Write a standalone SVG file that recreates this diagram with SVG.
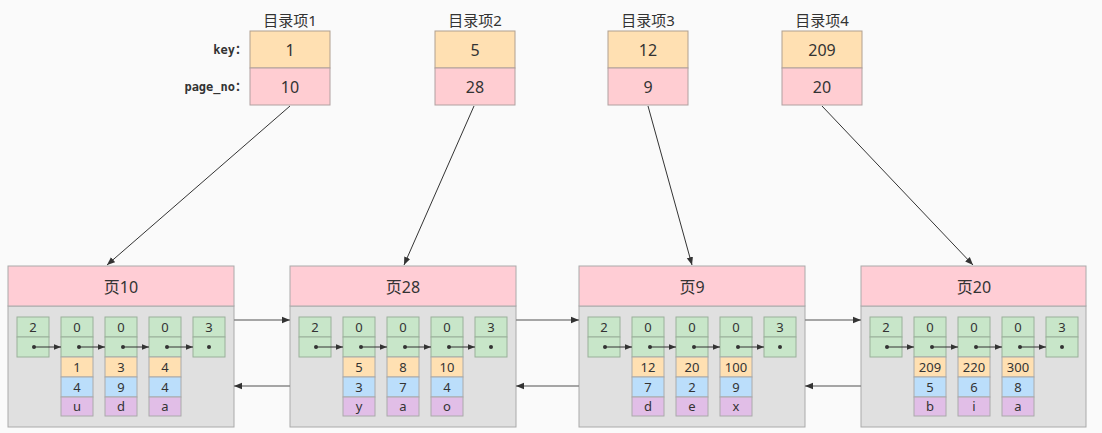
<svg xmlns="http://www.w3.org/2000/svg" width="1102" height="433" viewBox="0 0 1102 433">
<defs>
<style>
.bg{fill:#fafafa}
.t{font-family:"Noto Sans","Noto Sans CJK SC",sans-serif;fill:#333;text-anchor:middle;dominant-baseline:central}
.lbl{font-family:"DejaVu Sans Mono","Liberation Mono","Noto Sans CJK SC",monospace;font-weight:bold;font-size:12px;fill:#333;text-anchor:end;dominant-baseline:central}
.key{fill:#ffe0b2;stroke:#b0a090;stroke-width:1}
.pno{fill:#ffcdd2;stroke:#b0a0a0;stroke-width:1}
.ph{fill:#ffcdd5;stroke:#aaa;stroke-width:1}
.pb{fill:#e0e0e0;stroke:#aaa;stroke-width:1}
.g{fill:#c8e6c9;stroke:#9ab09a;stroke-width:1}
.o{fill:#ffe0b2;stroke:#aaa;stroke-width:1}
.b{fill:#bbdefb;stroke:#aaa;stroke-width:1}
.p{fill:#e1bee7;stroke:#aaa;stroke-width:1}
.ln{stroke:#333;stroke-width:1;fill:none}
.pl{stroke:#888;stroke-width:1.5;fill:none}
.dot{fill:#333}
</style>
<marker id="ah" viewBox="0 0 10 10" refX="10" refY="5" markerWidth="8" markerHeight="8" markerUnits="userSpaceOnUse" orient="auto"><path d="M0,1 L10,5 L0,9 z" fill="#333"/></marker>
<marker id="ahs" viewBox="0 0 10 10" refX="10" refY="5" markerWidth="7" markerHeight="7" markerUnits="userSpaceOnUse" orient="auto"><path d="M0,1 L10,5 L0,9 z" fill="#333"/></marker>
<g id="rec">
<rect class="g" x="0" y="0" width="32" height="20"/>
<rect class="g" x="0" y="20" width="32" height="20"/>
</g>
</defs>
<rect class="bg" x="0" y="0" width="1102" height="433"/>

<text class="lbl" x="247" y="50">key：</text>
<text class="lbl" x="247" y="87">page_no：</text>

<g id="dir1">
<text class="t" x="290" y="20" font-size="15">目录项1</text>
<rect class="key" x="250" y="31" width="80" height="37"/>
<rect class="pno" x="250" y="68" width="80" height="37"/>
<text class="t" x="290" y="50" font-size="16">1</text>
<text class="t" x="290" y="87" font-size="16">10</text>
</g>
<g id="dir2">
<text class="t" x="475" y="20" font-size="15">目录项2</text>
<rect class="key" x="435" y="31" width="80" height="37"/>
<rect class="pno" x="435" y="68" width="80" height="37"/>
<text class="t" x="475" y="50" font-size="16">5</text>
<text class="t" x="475" y="87" font-size="16">28</text>
</g>
<g id="dir3">
<text class="t" x="648" y="20" font-size="15">目录项3</text>
<rect class="key" x="608" y="31" width="80" height="37"/>
<rect class="pno" x="608" y="68" width="80" height="37"/>
<text class="t" x="648" y="50" font-size="16">12</text>
<text class="t" x="648" y="87" font-size="16">9</text>
</g>
<g id="dir4">
<text class="t" x="822" y="20" font-size="15">目录项4</text>
<rect class="key" x="782" y="31" width="80" height="37"/>
<rect class="pno" x="782" y="68" width="80" height="37"/>
<text class="t" x="822" y="50" font-size="16">209</text>
<text class="t" x="822" y="87" font-size="16">20</text>
</g>

<!-- Page 10 -->
<g id="page10" transform="translate(8,266)">
<rect class="pb" x="0" y="40" width="226" height="121"/>
<rect class="ph" x="0" y="0" width="226" height="40"/>
<text class="t" x="113" y="21" font-size="16">页10</text>
<g transform="translate(9,51)">
<use href="#rec" x="0"/><use href="#rec" x="44"/><use href="#rec" x="88"/><use href="#rec" x="132"/><use href="#rec" x="176"/>
<rect class="o" x="44" y="40" width="32" height="20"/><rect class="o" x="88" y="40" width="32" height="20"/><rect class="o" x="132" y="40" width="32" height="20"/>
<rect class="b" x="44" y="60" width="32" height="20"/><rect class="b" x="88" y="60" width="32" height="20"/><rect class="b" x="132" y="60" width="32" height="20"/>
<rect class="p" x="44" y="80" width="32" height="19"/><rect class="p" x="88" y="80" width="32" height="19"/><rect class="p" x="132" y="80" width="32" height="19"/>
<g font-size="13">
<text class="t" x="16" y="10">2</text><text class="t" x="60" y="10">0</text><text class="t" x="104" y="10">0</text><text class="t" x="148" y="10">0</text><text class="t" x="192" y="10">3</text>
<text class="t" x="60" y="50">1</text><text class="t" x="104" y="50">3</text><text class="t" x="148" y="50">4</text>
<text class="t" x="60" y="70">4</text><text class="t" x="104" y="70">9</text><text class="t" x="148" y="70">4</text>
<text class="t" x="60" y="89">u</text><text class="t" x="104" y="89">d</text><text class="t" x="148" y="89">a</text>
</g>
<g>
<circle class="dot" cx="17" cy="30" r="2"/><circle class="dot" cx="62" cy="30" r="2"/><circle class="dot" cx="106" cy="30" r="2"/><circle class="dot" cx="150" cy="30" r="2"/><circle class="dot" cx="192" cy="30" r="2"/>
<path class="ln" d="M17,30 H44" marker-end="url(#ahs)"/><path class="ln" d="M62,30 H88" marker-end="url(#ahs)"/><path class="ln" d="M106,30 H132" marker-end="url(#ahs)"/><path class="ln" d="M150,30 H176" marker-end="url(#ahs)"/>
</g>
</g>
</g>

<!-- Page 28 -->
<g id="page28" transform="translate(290,266)">
<rect class="pb" x="0" y="40" width="226" height="121"/>
<rect class="ph" x="0" y="0" width="226" height="40"/>
<text class="t" x="113" y="21" font-size="16">页28</text>
<g transform="translate(9,51)">
<use href="#rec" x="0"/><use href="#rec" x="44"/><use href="#rec" x="88"/><use href="#rec" x="132"/><use href="#rec" x="176"/>
<rect class="o" x="44" y="40" width="32" height="20"/><rect class="o" x="88" y="40" width="32" height="20"/><rect class="o" x="132" y="40" width="32" height="20"/>
<rect class="b" x="44" y="60" width="32" height="20"/><rect class="b" x="88" y="60" width="32" height="20"/><rect class="b" x="132" y="60" width="32" height="20"/>
<rect class="p" x="44" y="80" width="32" height="19"/><rect class="p" x="88" y="80" width="32" height="19"/><rect class="p" x="132" y="80" width="32" height="19"/>
<g font-size="13">
<text class="t" x="16" y="10">2</text><text class="t" x="60" y="10">0</text><text class="t" x="104" y="10">0</text><text class="t" x="148" y="10">0</text><text class="t" x="192" y="10">3</text>
<text class="t" x="60" y="50">5</text><text class="t" x="104" y="50">8</text><text class="t" x="148" y="50">10</text>
<text class="t" x="60" y="70">3</text><text class="t" x="104" y="70">7</text><text class="t" x="148" y="70">4</text>
<text class="t" x="60" y="89">y</text><text class="t" x="104" y="89">a</text><text class="t" x="148" y="89">o</text>
</g>
<g>
<circle class="dot" cx="17" cy="30" r="2"/><circle class="dot" cx="62" cy="30" r="2"/><circle class="dot" cx="106" cy="30" r="2"/><circle class="dot" cx="150" cy="30" r="2"/><circle class="dot" cx="192" cy="30" r="2"/>
<path class="ln" d="M17,30 H44" marker-end="url(#ahs)"/><path class="ln" d="M62,30 H88" marker-end="url(#ahs)"/><path class="ln" d="M106,30 H132" marker-end="url(#ahs)"/><path class="ln" d="M150,30 H176" marker-end="url(#ahs)"/>
</g>
</g>
</g>

<!-- Page 9 -->
<g id="page9" transform="translate(579,266)">
<rect class="pb" x="0" y="40" width="226" height="121"/>
<rect class="ph" x="0" y="0" width="226" height="40"/>
<text class="t" x="113" y="21" font-size="16">页9</text>
<g transform="translate(9,51)">
<use href="#rec" x="0"/><use href="#rec" x="44"/><use href="#rec" x="88"/><use href="#rec" x="132"/><use href="#rec" x="176"/>
<rect class="o" x="44" y="40" width="32" height="20"/><rect class="o" x="88" y="40" width="32" height="20"/><rect class="o" x="132" y="40" width="32" height="20"/>
<rect class="b" x="44" y="60" width="32" height="20"/><rect class="b" x="88" y="60" width="32" height="20"/><rect class="b" x="132" y="60" width="32" height="20"/>
<rect class="p" x="44" y="80" width="32" height="19"/><rect class="p" x="88" y="80" width="32" height="19"/><rect class="p" x="132" y="80" width="32" height="19"/>
<g font-size="13">
<text class="t" x="16" y="10">2</text><text class="t" x="60" y="10">0</text><text class="t" x="104" y="10">0</text><text class="t" x="148" y="10">0</text><text class="t" x="192" y="10">3</text>
<text class="t" x="60" y="50">12</text><text class="t" x="104" y="50">20</text><text class="t" x="148" y="50">100</text>
<text class="t" x="60" y="70">7</text><text class="t" x="104" y="70">2</text><text class="t" x="148" y="70">9</text>
<text class="t" x="60" y="89">d</text><text class="t" x="104" y="89">e</text><text class="t" x="148" y="89">x</text>
</g>
<g>
<circle class="dot" cx="17" cy="30" r="2"/><circle class="dot" cx="62" cy="30" r="2"/><circle class="dot" cx="106" cy="30" r="2"/><circle class="dot" cx="150" cy="30" r="2"/><circle class="dot" cx="192" cy="30" r="2"/>
<path class="ln" d="M17,30 H44" marker-end="url(#ahs)"/><path class="ln" d="M62,30 H88" marker-end="url(#ahs)"/><path class="ln" d="M106,30 H132" marker-end="url(#ahs)"/><path class="ln" d="M150,30 H176" marker-end="url(#ahs)"/>
</g>
</g>
</g>

<!-- Page 20 -->
<g id="page20" transform="translate(861,266)">
<rect class="pb" x="0" y="40" width="225" height="121"/>
<rect class="ph" x="0" y="0" width="225" height="40"/>
<text class="t" x="113" y="21" font-size="16">页20</text>
<g transform="translate(9,51)">
<use href="#rec" x="0"/><use href="#rec" x="44"/><use href="#rec" x="88"/><use href="#rec" x="132"/><use href="#rec" x="176"/>
<rect class="o" x="44" y="40" width="32" height="20"/><rect class="o" x="88" y="40" width="32" height="20"/><rect class="o" x="132" y="40" width="32" height="20"/>
<rect class="b" x="44" y="60" width="32" height="20"/><rect class="b" x="88" y="60" width="32" height="20"/><rect class="b" x="132" y="60" width="32" height="20"/>
<rect class="p" x="44" y="80" width="32" height="19"/><rect class="p" x="88" y="80" width="32" height="19"/><rect class="p" x="132" y="80" width="32" height="19"/>
<g font-size="13">
<text class="t" x="16" y="10">2</text><text class="t" x="60" y="10">0</text><text class="t" x="104" y="10">0</text><text class="t" x="148" y="10">0</text><text class="t" x="192" y="10">3</text>
<text class="t" x="60" y="50">209</text><text class="t" x="104" y="50">220</text><text class="t" x="148" y="50">300</text>
<text class="t" x="60" y="70">5</text><text class="t" x="104" y="70">6</text><text class="t" x="148" y="70">8</text>
<text class="t" x="60" y="89">b</text><text class="t" x="104" y="89">i</text><text class="t" x="148" y="89">a</text>
</g>
<g>
<circle class="dot" cx="17" cy="30" r="2"/><circle class="dot" cx="62" cy="30" r="2"/><circle class="dot" cx="106" cy="30" r="2"/><circle class="dot" cx="150" cy="30" r="2"/><circle class="dot" cx="192" cy="30" r="2"/>
<path class="ln" d="M17,30 H44" marker-end="url(#ahs)"/><path class="ln" d="M62,30 H88" marker-end="url(#ahs)"/><path class="ln" d="M106,30 H132" marker-end="url(#ahs)"/><path class="ln" d="M150,30 H176" marker-end="url(#ahs)"/>
</g>
</g>
</g>

<g id="connectors">
<path class="ln" d="M290,106 L107,265" marker-end="url(#ah)"/>
<path class="ln" d="M474,106 L404,265" marker-end="url(#ah)"/>
<path class="ln" d="M648,106 L692,265" marker-end="url(#ah)"/>
<path class="ln" d="M822,106 L973,265" marker-end="url(#ah)"/>
<path class="pl" d="M234,320 H290" marker-end="url(#ah)"/>
<path class="pl" d="M290,386 H234" marker-end="url(#ah)"/>
<path class="pl" d="M516,320 H579" marker-end="url(#ah)"/>
<path class="pl" d="M579,386 H516" marker-end="url(#ah)"/>
<path class="pl" d="M805,320 H861" marker-end="url(#ah)"/>
<path class="pl" d="M861,386 H805" marker-end="url(#ah)"/>
</g>
</svg>
